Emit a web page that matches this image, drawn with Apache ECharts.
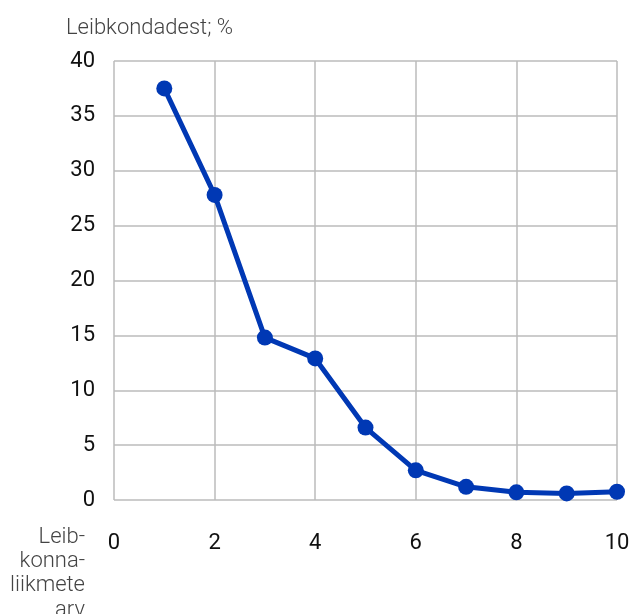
<!DOCTYPE html>
<html>
<head>
<meta charset="utf-8">
<script src="https://cdn.jsdelivr.net/npm/echarts@6/dist/echarts.min.js"></script>
<style>html,body{margin:0;padding:0;background:#fff;}#c{width:638px;height:614px;}</style>
</head>
<body>
<div id="c"></div>
<script>
const xValues = [1, 2, 3, 4, 5, 6, 7, 8, 9, 10];
const yValues = [37.5, 27.8, 14.8, 12.9, 6.6, 2.7, 1.2, 0.7, 0.6, 0.75];
const yAxisTitle = 'Leibkondadest; %';
const xAxisTitle = 'Leib-\nkonna-\nliikmete\narv';

const chart = echarts.init(document.getElementById('c'), null, {renderer: 'canvas'});
chart.setOption({
  animation: false,
  backgroundColor: '#fff',
  title: [
    {text: yAxisTitle, left: 61, top: 10,
     textStyle: {fontFamily: 'Roboto', fontWeight: 300, fontSize: 22, color: '#444', lineHeight: 26}},
    {text: xAxisTitle, left: 80, top: 520, textAlign: 'right',
     textStyle: {fontFamily: 'Roboto', fontWeight: 300, fontSize: 22, color: '#444', lineHeight: 24.3, align: 'right'}}
  ],
  grid: {left: 114, top: 61, right: 21, bottom: 114, containLabel: false},
  xAxis: {
    type: 'value', min: 0, max: 10, interval: 2,
    axisLine: {show: false}, axisTick: {show: false},
    axisLabel: {fontFamily: 'Roboto', fontSize: 22, color: '#111', margin: 32},
    splitLine: {show: true, lineStyle: {color: '#bbbbbb', width: 1.5}}
  },
  yAxis: {
    type: 'value', min: 0, max: 40, interval: 5,
    axisLine: {show: false}, axisTick: {show: false},
    axisLabel: {fontFamily: 'Roboto', fontSize: 22, color: '#111', margin: 19},
    splitLine: {show: true, lineStyle: {color: '#bbbbbb', width: 1.5}}
  },
  series: [{
    type: 'line',
    data: xValues.map((x, i) => [x, yValues[i]]),
    symbol: 'circle', symbolSize: 16,
    lineStyle: {color: '#0038b4', width: 5},
    itemStyle: {color: '#0038b4'}
  }]
});
</script>
</body>
</html>
